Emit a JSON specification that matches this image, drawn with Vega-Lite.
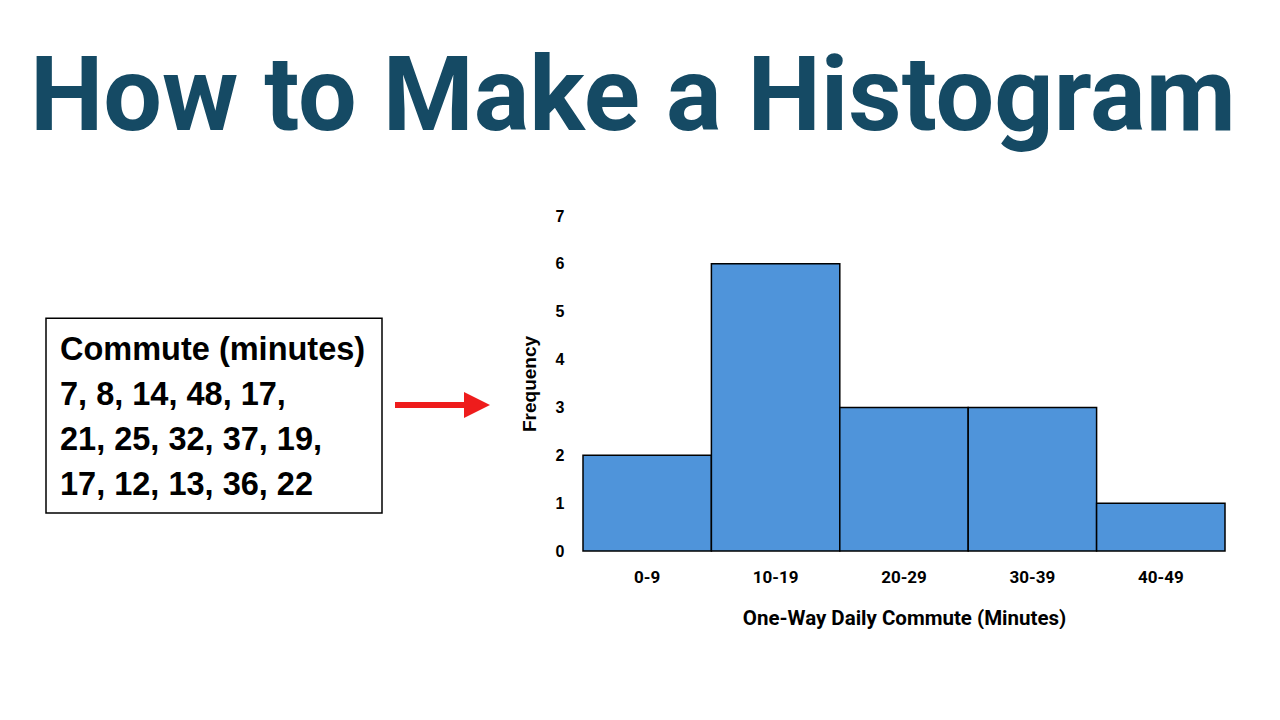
{
  "$schema": "https://vega.github.io/schema/vega-lite/v6.json",
  "padding": {"left": 0, "top": 47, "right": 0, "bottom": 0},
  "background": "white",
  "title": {
    "text": "How to Make a Histogram",
    "font": "Roboto",
    "fontWeight": "bold",
    "fontSize": 104,
    "color": "#154a64",
    "anchor": "middle",
    "frame": "bounds",
    "dx": 20,
    "offset": 56
  },
  "config": {"view": {"stroke": null}},
  "spacing": 20,
  "hconcat": [
    {
      "width": 500,
      "height": 335,
      "layer": [
        {
          "data": {"values": [{"item": "box"}]},
          "mark": {"type": "rect", "fill": "white", "stroke": "black", "strokeWidth": 1.5},
          "encoding": {
            "x": {"datum": 46, "type": "quantitative", "scale": {"domain": [0, 500], "nice": false, "zero": false}, "axis": null},
            "x2": {"datum": 382},
            "y": {"datum": 0.07, "type": "quantitative", "scale": {"domain": [-2.2, 5.244], "reverse": true, "nice": false, "zero": false}, "axis": null},
            "y2": {"datum": 4.4}
          }
        },
        {
          "data": {"values": [
            {"row": 1, "line": "Commute (minutes)"},
            {"row": 2, "line": "7, 8, 14, 48, 17,"},
            {"row": 3, "line": "21, 25, 32, 37, 19,"},
            {"row": 4, "line": "17, 12, 13, 36, 22"}
          ]},
          "mark": {"type": "text", "align": "left", "baseline": "alphabetic", "font": "Liberation Sans", "fontWeight": "bold", "fontSize": 32.5, "color": "black"},
          "encoding": {
            "x": {"datum": 60, "type": "quantitative"},
            "y": {"field": "row", "type": "quantitative"},
            "text": {"field": "line"}
          }
        },
        {
          "data": {"values": [{"item": "arrow"}]},
          "mark": {"type": "rule", "color": "#ee1c1c", "strokeWidth": 6},
          "encoding": {
            "x": {"datum": 395, "type": "quantitative"},
            "x2": {"datum": 468},
            "y": {"datum": 2, "type": "quantitative"}
          }
        },
        {
          "data": {"values": [{"item": "arrowhead"}]},
          "mark": {"type": "point", "shape": "M-1,-1L1,0L-1,1Z", "filled": true, "color": "#ee1c1c", "size": 676, "opacity": 1},
          "encoding": {
            "x": {"datum": 477, "type": "quantitative"},
            "y": {"datum": 2, "type": "quantitative"}
          }
        }
      ]
    },
    {
      "width": 642,
      "height": 335,
      "data": {"values": [
        {"bin": "0-9", "frequency": 2},
        {"bin": "10-19", "frequency": 6},
        {"bin": "20-29", "frequency": 3},
        {"bin": "30-39", "frequency": 3},
        {"bin": "40-49", "frequency": 1}
      ]},
      "mark": {"type": "bar", "fill": "#4f94da", "stroke": "black", "strokeWidth": 1.5},
      "encoding": {
        "x": {
          "field": "bin", "type": "ordinal", "sort": null,
          "scale": {"paddingInner": 0, "paddingOuter": 0},
          "axis": {
            "title": "One-Way Daily Commute (Minutes)",
            "labelAngle": 0, "domain": false, "ticks": false,
            "labelPadding": 18, "labelFont": "Roboto", "labelFontWeight": "bold", "labelFontSize": 17, "labelColor": "black",
            "titleFont": "Roboto", "titleFontWeight": "bold", "titleFontSize": 20.5, "titleColor": "black", "titlePadding": 23
          }
        },
        "y": {
          "field": "frequency", "type": "quantitative",
          "scale": {"domain": [0, 7]},
          "axis": {
            "title": "Frequency",
            "values": [0, 1, 2, 3, 4, 5, 6, 7],
            "grid": false, "domain": false, "ticks": false,
            "labelPadding": 19, "labelFont": "Liberation Sans", "labelFontWeight": "bold", "labelFontSize": 16, "labelColor": "black",
            "titleFont": "Liberation Sans", "titleFontWeight": "bold", "titleFontSize": 19, "titleColor": "black", "titlePadding": 16
          }
        }
      }
    }
  ]
}
